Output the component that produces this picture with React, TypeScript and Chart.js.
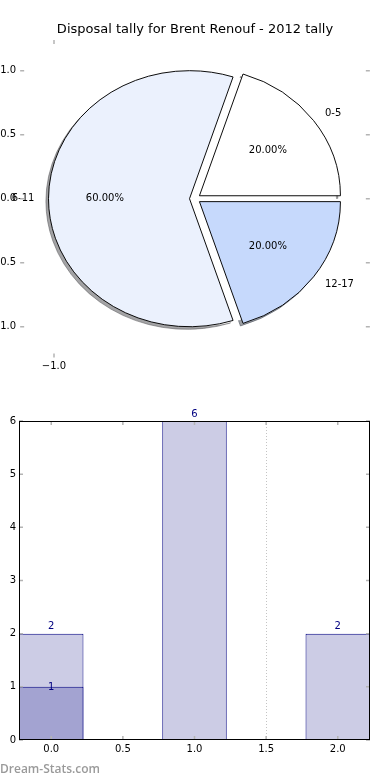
import React, { useEffect, useRef } from 'react';
import { Chart, registerables } from 'chart.js';

Chart.register(...registerables);

// ---------- data ----------
const TITLE = 'Disposal tally for Brent Renouf - 2012 tally';
const pieCategories = ['0-5', '6-11', '12-17'];
const pieCounts = [2, 6, 2];
const pieYAxisTicks = [1.0, 0.5, 0.0, -0.5, -1.0];
const pieXAxisTicks = [-1.0];

const barBins = [0, 1, 2];
const barCounts = [2, 6, 2];
const darkBins = [0];
const darkCounts = [1];
const barXTicks = [0, 0.5, 1.0, 1.5, 2.0];
const barYTicks = [0, 1, 2, 3, 4, 5, 6];
const markerLines = [1.5];

// ---------- styles ----------
const FONT = '"DejaVu Sans", sans-serif';
const pieColors = ['#FFFFFF', '#EBF1FD', '#C6D9FC'];
const LIGHT_BAR = '#CCCCE5';
const DARK_BAR = '#A3A3D1';
const NAVY = '#000080';
const TICK_GREY = '#b4b4b4';
const Y_SCALE = 0.908;
const EXPLODE = 5.5;
const SHADOW_DX = -2.6;
const SHADOW_DY = 2.6;
const PIE_AXIS_LIM = 1.24;
const BAR_X_MIN = -0.225;
const BAR_X_MAX = 2.225;

function fmtSigned(v: number) {
  const s = Math.abs(v).toFixed(1);
  return v < 0 ? '\u2212' + s : s;
}

function shadowColor(hex: string) {
  const h = hex.replace('#', '');
  const r = parseInt(h.slice(0, 2), 16);
  const g = parseInt(h.slice(2, 4), 16);
  const b = parseInt(h.slice(4, 6), 16);
  return `rgba(${Math.round(r * 0.3)},${Math.round(g * 0.3)},${Math.round(b * 0.3)},0.5)`;
}

const midAngle = (a: any) => (a.startAngle + a.endAngle) / 2;

const piePlugin = {
  id: 'ellipsePie',
  beforeDatasetsDraw(chart: any) {
    const arcs = chart.getDatasetMeta(0).data;
    if (!arcs.length) return false;
    const ctx = chart.ctx;
    const cx = arcs[0].x;
    const cy = arcs[0].y;
    const R = arcs[0].outerRadius;
    ctx.save();
    ctx.translate(cx, cy);
    ctx.scale(1, Y_SCALE);
    ctx.translate(-cx, -cy);
    // shadows, visible only outside the base circle
    ctx.save();
    ctx.beginPath();
    ctx.rect(cx - 3 * R, cy - 3 * R, 6 * R, 6 * R);
    ctx.moveTo(cx + R, cy);
    ctx.arc(cx, cy, R, 0, Math.PI * 2);
    ctx.clip('evenodd');
    arcs.forEach((arc: any) => {
      const m = midAngle(arc);
      const clone = Object.assign(Object.create(Object.getPrototypeOf(arc)), arc);
      const col = shadowColor(arc.options.backgroundColor);
      clone.options = Object.assign({}, arc.options, { backgroundColor: col, borderColor: col });
      ctx.save();
      ctx.translate(EXPLODE * Math.cos(m) + SHADOW_DX, EXPLODE * Math.sin(m) + SHADOW_DY / Y_SCALE);
      clone.draw(ctx);
      ctx.restore();
    });
    ctx.restore();
    arcs.forEach((arc: any) => {
      const m = midAngle(arc);
      ctx.save();
      ctx.translate(EXPLODE * Math.cos(m), EXPLODE * Math.sin(m));
      arc.draw(ctx);
      ctx.restore();
    });
    ctx.restore();
    return false;
  },
  afterDraw(chart: any) {
    const arcs = chart.getDatasetMeta(0).data;
    if (!arcs.length) return;
    const ctx = chart.ctx;
    const cx = arcs[0].x;
    const cy = arcs[0].y;
    const R = arcs[0].outerRadius;
    const values: number[] = chart.data.datasets[0].data;
    const total = values.reduce((a, b) => a + b, 0);
    ctx.save();
    ctx.font = `10px ${FONT}`;
    ctx.fillStyle = '#000';
    ctx.textBaseline = 'middle';
    arcs.forEach((arc: any, k: number) => {
      const m = midAngle(arc);
      const c = Math.cos(m);
      const s = Math.sin(m);
      const ex = cx + EXPLODE * c;
      const ey = cy + EXPLODE * s * Y_SCALE;
      ctx.textAlign = c >= 0 ? 'left' : 'right';
      ctx.fillText(chart.data.labels[k], ex + 1.1 * R * c, ey + 1.1 * R * s * Y_SCALE);
      ctx.textAlign = 'center';
      const pct = ((values[k] / total) * 100).toFixed(2) + '%';
      ctx.fillText(pct, ex + 0.6 * R * c, ey + 0.6 * R * s * Y_SCALE);
    });
    // fake axes of the pie subplot
    const left = cx - PIE_AXIS_LIM * R;
    const right = cx + PIE_AXIS_LIM * R;
    const top = cy - PIE_AXIS_LIM * R * Y_SCALE;
    const bottom = cy + PIE_AXIS_LIM * R * Y_SCALE;
    ctx.strokeStyle = TICK_GREY;
    ctx.lineWidth = 1.5;
    pieYAxisTicks.forEach((v) => {
      const y = cy - v * R * Y_SCALE;
      ctx.beginPath();
      ctx.moveTo(left, y);
      ctx.lineTo(left + 4, y);
      ctx.moveTo(right - 4, y);
      ctx.lineTo(right, y);
      ctx.stroke();
      ctx.textAlign = 'right';
      ctx.textBaseline = 'middle';
      ctx.fillText(fmtSigned(v), left - 4, y);
    });
    pieXAxisTicks.forEach((v) => {
      const x = cx + v * R;
      ctx.beginPath();
      ctx.moveTo(x, top);
      ctx.lineTo(x, top + 4);
      ctx.moveTo(x, bottom - 4);
      ctx.lineTo(x, bottom);
      ctx.stroke();
      ctx.textAlign = 'center';
      ctx.textBaseline = 'top';
      ctx.fillText(fmtSigned(v), x, bottom + 4);
    });
    ctx.restore();
  },
};

const barPlugin = {
  id: 'barDecor',
  beforeDatasetsDraw(chart: any) {
    const { ctx, chartArea } = chart;
    const xs = chart.scales.x;
    ctx.save();
    ctx.strokeStyle = '#c4c4c4';
    ctx.lineWidth = 1;
    ctx.setLineDash([1, 2]);
    markerLines.forEach((v) => {
      const x = Math.round(xs.getPixelForValue(v)) + 0.5;
      ctx.beginPath();
      ctx.moveTo(x, chartArea.top);
      ctx.lineTo(x, chartArea.bottom);
      ctx.stroke();
    });
    ctx.restore();
  },
  afterDatasetsDraw(chart: any) {
    const { ctx, chartArea } = chart;
    const xs = chart.scales.x;
    const ys = chart.scales.y;
    ctx.save();
    // tick marks (inward, all four sides)
    ctx.strokeStyle = TICK_GREY;
    ctx.lineWidth = 1.5;
    barXTicks.forEach((v) => {
      const x = xs.getPixelForValue(v);
      ctx.beginPath();
      ctx.moveTo(x, chartArea.top);
      ctx.lineTo(x, chartArea.top + 4);
      ctx.moveTo(x, chartArea.bottom - 4);
      ctx.lineTo(x, chartArea.bottom);
      ctx.stroke();
    });
    barYTicks.forEach((v) => {
      const y = ys.getPixelForValue(v);
      ctx.beginPath();
      ctx.moveTo(chartArea.left, y);
      ctx.lineTo(chartArea.left + 4, y);
      ctx.moveTo(chartArea.right - 4, y);
      ctx.lineTo(chartArea.right, y);
      ctx.stroke();
    });
    // frame
    ctx.strokeStyle = '#000';
    ctx.lineWidth = 1;
    ctx.strokeRect(
      Math.round(chartArea.left) + 0.5,
      Math.round(chartArea.top) + 0.5,
      Math.round(chartArea.right - chartArea.left) - 1,
      Math.round(chartArea.bottom - chartArea.top) - 1
    );
    // value labels
    ctx.font = `10px ${FONT}`;
    ctx.fillStyle = NAVY;
    ctx.textAlign = 'center';
    ctx.textBaseline = 'alphabetic';
    chart.data.datasets.forEach((ds: any, di: number) => {
      const meta = chart.getDatasetMeta(di);
      meta.data.forEach((bar: any, i: number) => {
        const v = ds.data[i].y;
        const y = ds.labelInside ? bar.y + 3 : bar.y - 4.5;
        ctx.fillText(String(v), bar.x, y);
      });
    });
    ctx.restore();
  },
};

export default function App() {
  const pieRef = useRef<HTMLCanvasElement>(null);
  const barRef = useRef<HTMLCanvasElement>(null);

  useEffect(() => {
    const order = pieCategories.map((_, i) => pieCategories.length - 1 - i);
    const pie = new Chart(pieRef.current as HTMLCanvasElement, {
      type: 'pie',
      data: {
        labels: order.map((i) => pieCategories[i]),
        datasets: [
          {
            data: order.map((i) => pieCounts[i]),
            backgroundColor: order.map((i) => pieColors[i]),
            borderColor: '#000',
            borderWidth: 1,
            borderJoinStyle: 'miter',
          } as any,
        ],
      },
      options: {
        responsive: false,
        animation: false,
        events: [],
        rotation: 90,
        radius: 141,
        layout: { padding: { top: 0, bottom: 30.4, left: 0, right: 0 } },
        plugins: {
          legend: { display: false },
          tooltip: { enabled: false },
          title: {
            display: true,
            text: TITLE,
            color: '#000',
            font: { family: FONT, size: 13, weight: 'normal' },
            padding: { top: 22.2, bottom: 0 },
          },
        },
      } as any,
      plugins: [piePlugin],
    });

    const bar = new Chart(barRef.current as HTMLCanvasElement, {
      type: 'bar',
      data: {
        datasets: [
          {
            label: 'dark',
            data: darkBins.map((x, i) => ({ x, y: darkCounts[i] })),
            backgroundColor: DARK_BAR,
            borderColor: NAVY,
            borderWidth: 1,
            borderSkipped: false,
            grouped: false,
            categoryPercentage: 1,
            barPercentage: 0.9,
            labelInside: true,
          } as any,
          {
            label: 'tally',
            data: barBins.map((x, i) => ({ x, y: barCounts[i] })),
            backgroundColor: LIGHT_BAR,
            borderColor: NAVY,
            borderWidth: 1,
            borderSkipped: false,
            grouped: false,
            categoryPercentage: 1,
            barPercentage: 0.9,
          } as any,
        ],
      },
      options: {
        responsive: false,
        animation: false,
        events: [],
        layout: { padding: { top: 31, right: 20, bottom: 20, left: 0 } },
        plugins: { legend: { display: false }, tooltip: { enabled: false } },
        scales: {
          x: {
            type: 'linear',
            offset: false,
            min: BAR_X_MIN,
            max: BAR_X_MAX,
            afterBuildTicks: (s: any) => {
              s.ticks = barXTicks.map((v) => ({ value: v }));
            },
            afterFit: (s: any) => {
              s.height = 20;
            },
            grid: { display: false, drawTicks: false, offset: false },
            border: { display: false },
            ticks: {
              color: '#000',
              font: { family: FONT, size: 10 },
              padding: 3,
              autoSkip: false,
              maxRotation: 0,
              callback: (v: any) => Number(v).toFixed(1),
            },
          },
          y: {
            type: 'linear',
            min: 0,
            max: 6,
            afterBuildTicks: (s: any) => {
              s.ticks = barYTicks.map((v) => ({ value: v }));
            },
            afterFit: (s: any) => {
              s.width = 19;
            },
            grid: { display: false, drawTicks: false },
            border: { display: false },
            ticks: {
              color: '#000',
              font: { family: FONT, size: 10 },
              padding: 3,
              autoSkip: false,
              callback: (v: any) => String(v),
            },
          },
        },
      } as any,
      plugins: [barPlugin],
    });

    return () => {
      pie.destroy();
      bar.destroy();
    };
  }, []);

  return (
    <div
      style={{
        position: 'fixed',
        left: 0,
        top: 0,
        width: 390,
        height: 780,
        background: '#fff',
        overflow: 'hidden',
      }}
    >
      <canvas
        ref={pieRef}
        width={390}
        height={390}
        style={{ position: 'absolute', left: 0, top: 0, width: 390, height: 390 }}
      />
      <canvas
        ref={barRef}
        width={390}
        height={390}
        style={{ position: 'absolute', left: 0, top: 390, width: 390, height: 390 }}
      />
      <div
        style={{
          position: 'absolute',
          left: 0,
          top: 761,
          fontFamily: '"Open Sans", "DejaVu Sans", sans-serif',
          fontWeight: 600,
          fontSize: 12,
          lineHeight: '16px',
          color: '#9a9a9a',
          whiteSpace: 'nowrap',
        }}
      >
        Dream-Stats.com
      </div>
    </div>
  );
}
